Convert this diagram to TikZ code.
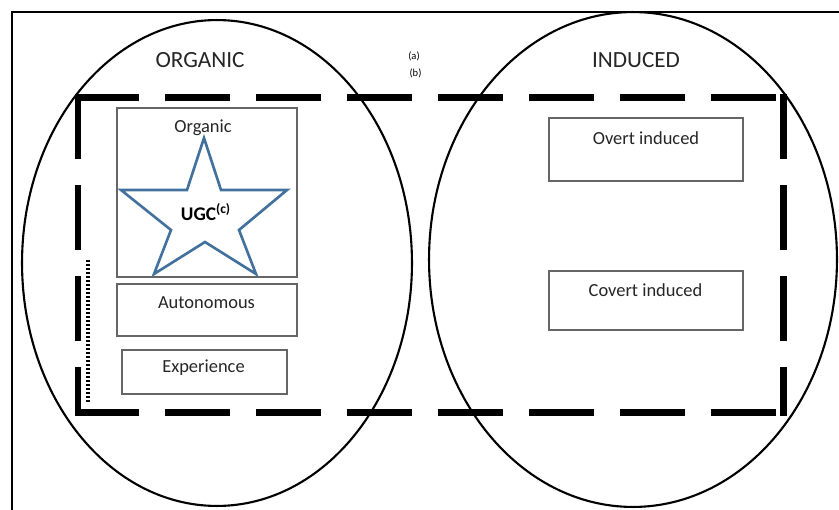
\documentclass[tikz,border=0pt]{standalone}
\usepackage{fontspec}
\setmainfont{Carlito}
\definecolor{starblue}{HTML}{41719C}
\begin{document}
\begin{tikzpicture}[x=0.02cm, y=-0.02cm, font=\fontsize{10.5}{12}\selectfont, text=black!85,
        oval/.style={line width=1.2pt},
        box/.style={draw=black!60, line width=0.8pt, inner sep=0pt},
        title/.style={font=\fontsize{13.2}{15}\selectfont},
        note/.style={font=\fontsize{6}{7}\selectfont, text=black},
        fence/.style={line width=0.14cm, line cap=rect, dash pattern=on 1.16cm off 0.66cm}]
        \useasboundingbox[fill=white] (0,0) rectangle (839,510);
        \clip (0,0) rectangle (839,510);
        \draw[line width=1.6pt] (860,12) -- (12,12) -- (12,530);
        % the two sets
        \draw[oval] (217,263) ellipse [x radius=3.9cm, y radius=4.86cm];
        \draw[oval] (633,259.5) ellipse [x radius=4.08cm, y radius=4.95cm];
        \node[title] (organic) at (200,60) {ORGANIC};
        \node[title] (induced) at (636,60) {INDUCED};
        \node[note] (a) at (414,56) {(a)};
        \node[note] (b) at (415.5,73) {(b)};
        % dashed frame
        \coordinate (dtl) at (78,98);
        \coordinate (dtr) at (783,98);
        \coordinate (dbl) at (78,412);
        \coordinate (dbr) at (783,412);
        \foreach \from/\to in {dtl/dtr, dtl/dbl, dtr/dbr, dbl/dbr}
            \draw[fence] (\from) -- (\to);
        \draw[line width=0.07cm, dash pattern=on 0.045cm off 0.035cm] (88,260) -- (88,403);
        % boxes
        \node[box, minimum width=3.6cm, minimum height=3.38cm] (orgbox) at (207,192.5) {};
        \node[box, minimum width=3.6cm, minimum height=1.04cm] (autobox) at (207,310) {};
        \node[box, minimum width=3.3cm, minimum height=0.88cm] (expbox) at (204.5,372) {};
        \node[box, minimum width=3.88cm, minimum height=1.26cm] (overtbox) at (646,149.5) {};
        \node[box, minimum width=3.88cm, minimum height=1.18cm] (covertbox) at (646,300.5) {};
        \node (orgtxt) at (203,128) {Organic};
        \node (autotxt) at (206.5,303) {Autonomous};
        \node (exptxt) at (203.5,368) {Experience};
        \node (overttxt) at (646,138) {Overt induced};
        \node (coverttxt) at (645.5,290) {Covert induced};
        % star
        \draw[starblue, line width=1.5pt, line join=miter] (204,138)
            \foreach \p in {(221,190), (287,190), (239,230), (256,274), (205,242),
                (154,274), (171,230), (121,190), (187,190)} { -- \p } -- cycle;
        \node[font=\fontsize{11}{13}\selectfont\bfseries, text=black] (ugc) at (206,212) {UGC\textsuperscript{(c)}};
\end{tikzpicture}
\end{document}
